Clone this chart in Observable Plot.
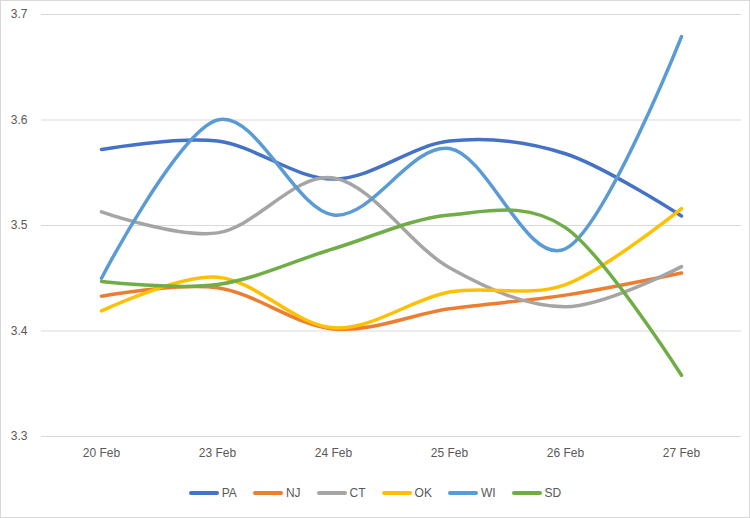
<!DOCTYPE html>
<html>
<head>
<meta charset="utf-8">
<script src="https://cdn.jsdelivr.net/npm/d3@7"></script>
<script src="https://cdn.jsdelivr.net/npm/@observablehq/plot@0.6"></script>
<style>
  html, body { margin: 0; padding: 0; background: #fff; }
  #wrap { position: relative; width: 750px; height: 518px; overflow: hidden; font-family: "Liberation Sans", Arial, sans-serif; }
  #frame { position: absolute; left: 0; top: 0; width: 748px; height: 516px; border: 1px solid #d9d9d9; pointer-events: none; }
  #chart { position: absolute; left: 0; top: 0; }
  #legend { position: absolute; left: 0; top: 486px; width: 750px; display: flex; justify-content: center; align-items: center; font-size: 12px; color: #595959; }
  .item { display: flex; align-items: center; margin: 0 8px; }
  .sw { width: 30px; height: 4px; border-radius: 2px; margin-right: 3px; }
</style>
</head>
<body>
<div id="wrap">
  <div id="chart"></div>
  <div id="legend"></div>
  <div id="frame"></div>
</div>
<script>
const dates = ["20 Feb", "23 Feb", "24 Feb", "25 Feb", "26 Feb", "27 Feb"];
const states = ["PA", "NJ", "CT", "OK", "WI", "SD"];
const colors = ["#4472C4", "#ED7D31", "#A5A5A5", "#FFC000", "#5B9BD5", "#70AD47"];
const PA = [3.572, 3.580, 3.544, 3.580, 3.568, 3.509];
const NJ = [3.433, 3.441, 3.402, 3.421, 3.434, 3.455];
const CT = [3.513, 3.493, 3.545, 3.460, 3.423, 3.461];
const OK = [3.419, 3.451, 3.403, 3.437, 3.444, 3.516];
const WI = [3.450, 3.600, 3.510, 3.573, 3.478, 3.679];
const SD = [3.447, 3.444, 3.478, 3.510, 3.498, 3.358];
const yTicks = [3.3, 3.4, 3.5, 3.6, 3.7];

const series = {PA, NJ, CT, OK, WI, SD};
const data = [];
for (const s of states) {
  series[s].forEach((v, i) => data.push({state: s, date: dates[i], value: v}));
}

const chart = Plot.plot({
  width: 750,
  height: 470,
  marginTop: 14,
  marginBottom: 34,
  marginLeft: 41,
  marginRight: 9,
  style: {fontFamily: "'Liberation Sans', Arial, sans-serif", fontSize: "12px", color: "#595959", background: "transparent"},
  x: {type: "point", domain: dates, padding: 0.5},
  y: {domain: [3.3, 3.7]},
  color: {domain: states, range: colors},
  marks: [
    Plot.gridY(yTicks, {stroke: "#d9d9d9", strokeOpacity: 1, strokeWidth: 1}),
    Plot.axisY(yTicks, {tickSize: 0, tickPadding: 14, tickFormat: d3.format(".1f"), label: null, fill: "#595959"}),
    Plot.axisX({tickSize: 0, tickPadding: 12, label: null, fill: "#595959"}),
    Plot.lineY(data, {x: "date", y: "value", z: "state", stroke: "state", curve: "cardinal", strokeWidth: 3.5, strokeLinecap: "round", strokeLinejoin: "round"})
  ]
});
document.getElementById("chart").appendChild(chart);

const legend = document.getElementById("legend");
states.forEach((s, i) => {
  const it = document.createElement("div");
  it.className = "item";
  const sw = document.createElement("span");
  sw.className = "sw";
  sw.style.background = colors[i];
  const t = document.createElement("span");
  t.textContent = s;
  it.appendChild(sw);
  it.appendChild(t);
  legend.appendChild(it);
});
</script>
</body>
</html>
